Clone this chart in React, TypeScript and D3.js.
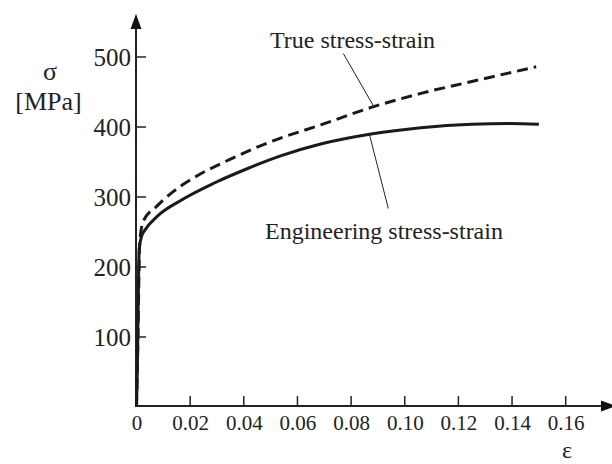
import React from 'react';
import * as d3 from 'd3';

// engineering curve (solid)
const engStrain = [0, 0.0003, 0.001, 0.0019, 0.0032, 0.0076, 0.016, 0.029, 0.041, 0.054, 0.069, 0.0875, 0.106, 0.125, 0.139, 0.15];
const engStress = [0, 54, 225, 244, 253, 272, 294, 320, 340, 359, 376, 390, 399, 404, 405, 404];

// true curve (dashed)
const trueStrain = [0, 0.0005, 0.0012, 0.0025, 0.0076, 0.0138, 0.0225, 0.035, 0.05, 0.0687, 0.0875, 0.106, 0.125, 0.149];
const trueStress = [0, 90, 235, 265, 287, 308, 330, 354, 379, 403, 428, 448, 465, 486];

const xTicks = [0, 0.02, 0.04, 0.06, 0.08, 0.1, 0.12, 0.14, 0.16];
const xTickLabels = ['0', '0.02', '0.04', '0.06', '0.08', '0.10', '0.12', '0.14', '0.16'];
const yTicks = [100, 200, 300, 400, 500];
const yTickLabels = ['100', '200', '300', '400', '500'];

const trueLabel = 'True stress-strain';
const engLabel = 'Engineering stress-strain';
// where the leader lines touch the curves [strain, stress]
const trueAnchor = [0.0885, 429];
const engAnchor = [0.0868, 390];

const font = "'Liberation Serif', 'DejaVu Serif', serif";

export default function App() {
  const x = d3.scaleLinear().domain([0, 0.16]).range([136.5, 565.7]);
  const y = d3.scaleLinear().domain([0, 500]).range([407, 57]);

  const line = d3.line<[number, number]>()
    .x(d => x(d[0]))
    .y(d => y(d[1]))
    .curve(d3.curveMonotoneX);

  const engPath = line(engStrain.map((s, i) => [s, engStress[i]]));
  const truePath = line(trueStrain.map((s, i) => [s, trueStress[i]]));

  const x0 = x(0) - 0.5;
  const y0 = y(0) - 1;

  return (
    <svg width={612} height={464} style={{ position: 'absolute', left: 0, top: 0, background: '#fff', fontFamily: font }}>
      {/* axes */}
      <line x1={x0} y1={y0 + 1} x2={x0} y2={26} stroke="#222" strokeWidth={2} />
      <path d={`M${x0},14 L${x0 - 5.5},29 L${x0 + 5.5},29 Z`} fill="#111" />
      <line x1={x0 - 1} y1={y0} x2={604} y2={y0} stroke="#222" strokeWidth={2} />
      <path d={`M616,${y0} L601,${y0 - 5.5} L601,${y0 + 5.5} Z`} fill="#111" />

      {yTicks.map((t, i) => (
        <g key={t}>
          <line x1={x0} x2={x0 + 10} y1={y(t)} y2={y(t)} stroke="#222" strokeWidth={1.5} />
          <text x={131} y={y(t) + 8.5} textAnchor="end" fontSize={25} fill="#222">{yTickLabels[i]}</text>
        </g>
      ))}
      {xTicks.map((t, i) => (
        <g key={t}>
          {i > 0 && <line x1={x(t)} x2={x(t)} y1={y0} y2={y0 - 10} stroke="#222" strokeWidth={1.5} />}
          <text x={x(t) + 0.5} y={430} textAnchor="middle" fontSize={21} fill="#222">{xTickLabels[i]}</text>
        </g>
      ))}

      {/* axis labels */}
      <text x={50} y={80} textAnchor="middle" fontSize={26} fill="#222">σ</text>
      <text x={48.5} y={110} textAnchor="middle" fontSize={26} fill="#222">[MPa]</text>
      <text x={567} y={458} textAnchor="middle" fontSize={24} fill="#222">ε</text>

      {/* curves */}
      <path d={truePath || ''} fill="none" stroke="#1a1a1a" strokeWidth={3} strokeDasharray="11,6" />
      <path d={engPath || ''} fill="none" stroke="#1a1a1a" strokeWidth={3} />

      {/* annotations */}
      <line x1={343.3} y1={53.5} x2={x(trueAnchor[0])} y2={y(trueAnchor[1])} stroke="#222" strokeWidth={1} />
      <text x={270} y={48} fontSize={24} fill="#222">{trueLabel}</text>
      <line x1={x(engAnchor[0])} y1={y(engAnchor[1])} x2={388.3} y2={208.5} stroke="#222" strokeWidth={1} />
      <text x={265} y={239} fontSize={24} fill="#222">{engLabel}</text>
    </svg>
  );
}
